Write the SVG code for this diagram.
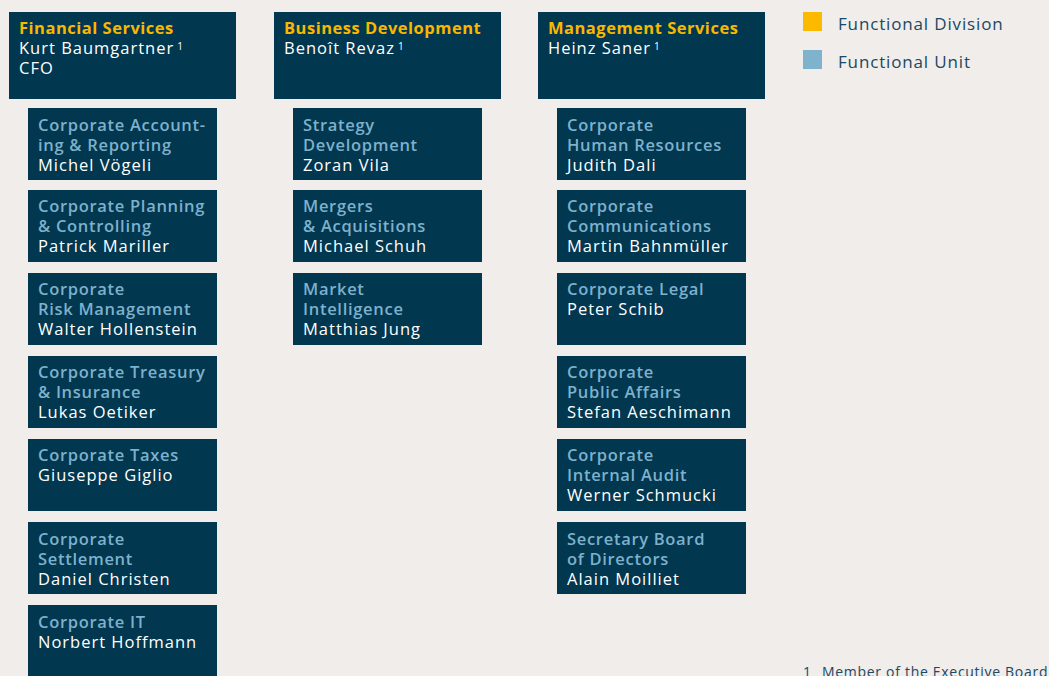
<svg xmlns="http://www.w3.org/2000/svg" width="1049" height="676" viewBox="0 0 1049 676">
<style>
.bg{fill:#f0edea}
.box{fill:#023750}
.t{font-family:"Open Sans","Liberation Sans",sans-serif;font-size:16.5px}
.div{fill:#f8b800;font-weight:700;letter-spacing:0.5px}
.unit{fill:#7db1cc;font-weight:600;letter-spacing:0.7px}
.name{fill:#ffffff;letter-spacing:1px}
.sup{font-size:10px;letter-spacing:0}
.leg{fill:#1b4863;font-family:"Open Sans","Liberation Sans",sans-serif;font-size:17px;letter-spacing:0.85px}
.foot{fill:#1b4863;font-family:"Open Sans","Liberation Sans",sans-serif;font-size:14px;letter-spacing:0.7px}
</style>
<rect class="bg" x="0" y="0" width="1049" height="676"/>
<g id="connectors"/>
<g id="financial-services">
<rect class="box" x="9" y="12" width="227" height="87"/>
<text class="t div" x="19" y="34">Financial Services</text>
<text class="t name" x="19" y="54">Kurt Baumgartner<tspan class="sup" dx="3" dy="-4">1</tspan></text>
<text class="t name" x="19" y="74">CFO</text>
</g>
<g id="business-development">
<rect class="box" x="274" y="12" width="227" height="87"/>
<text class="t div" x="284" y="34">Business Development</text>
<text class="t name" x="284" y="54">Benoît Revaz<tspan class="sup" dx="3" dy="-4">1</tspan></text>
</g>
<g id="management-services">
<rect class="box" x="538" y="12" width="227" height="87"/>
<text class="t div" x="548" y="34">Management Services</text>
<text class="t name" x="548" y="54">Heinz Saner<tspan class="sup" dx="3" dy="-4">1</tspan></text>
</g>
<g id="corp-accounting">
<rect class="box" x="28" y="108" width="189" height="72"/>
<text class="t unit" x="38" y="131">Corporate Account-</text>
<text class="t unit" x="38" y="151">ing &amp; Reporting</text>
<text class="t name" x="38" y="171">Michel Vögeli</text>
</g>
<g id="corp-planning">
<rect class="box" x="28" y="190" width="189" height="72"/>
<text class="t unit" x="38" y="212">Corporate Planning</text>
<text class="t unit" x="38" y="232">&amp; Controlling</text>
<text class="t name" x="38" y="252">Patrick Mariller</text>
</g>
<g id="corp-risk">
<rect class="box" x="28" y="273" width="189" height="72"/>
<text class="t unit" x="38" y="295">Corporate</text>
<text class="t unit" x="38" y="315">Risk Management</text>
<text class="t name" x="38" y="335">Walter Hollenstein</text>
</g>
<g id="corp-treasury">
<rect class="box" x="28" y="356" width="189" height="72"/>
<text class="t unit" x="38" y="378">Corporate Treasury</text>
<text class="t unit" x="38" y="398">&amp; Insurance</text>
<text class="t name" x="38" y="418">Lukas Oetiker</text>
</g>
<g id="corp-taxes">
<rect class="box" x="28" y="439" width="189" height="72"/>
<text class="t unit" x="38" y="461">Corporate Taxes</text>
<text class="t name" x="38" y="481">Giuseppe Giglio</text>
</g>
<g id="corp-settlement">
<rect class="box" x="28" y="522" width="189" height="72"/>
<text class="t unit" x="38" y="545">Corporate</text>
<text class="t unit" x="38" y="565">Settlement</text>
<text class="t name" x="38" y="585">Daniel Christen</text>
</g>
<g id="corp-it">
<rect class="box" x="28" y="605" width="189" height="75"/>
<text class="t unit" x="38" y="628">Corporate IT</text>
<text class="t name" x="38" y="648">Norbert Hoffmann</text>
</g>
<g id="strategy-development">
<rect class="box" x="293" y="108" width="189" height="72"/>
<text class="t unit" x="303" y="131">Strategy</text>
<text class="t unit" x="303" y="151">Development</text>
<text class="t name" x="303" y="171">Zoran Vila</text>
</g>
<g id="mergers-acquisitions">
<rect class="box" x="293" y="190" width="189" height="72"/>
<text class="t unit" x="303" y="212">Mergers</text>
<text class="t unit" x="303" y="232">&amp; Acquisitions</text>
<text class="t name" x="303" y="252">Michael Schuh</text>
</g>
<g id="market-intelligence">
<rect class="box" x="293" y="273" width="189" height="72"/>
<text class="t unit" x="303" y="295">Market</text>
<text class="t unit" x="303" y="315">Intelligence</text>
<text class="t name" x="303" y="335">Matthias Jung</text>
</g>
<g id="corp-hr">
<rect class="box" x="557" y="108" width="189" height="72"/>
<text class="t unit" x="567" y="131">Corporate</text>
<text class="t unit" x="567" y="151">Human Resources</text>
<text class="t name" x="567" y="171">Judith Dali</text>
</g>
<g id="corp-communications">
<rect class="box" x="557" y="190" width="189" height="72"/>
<text class="t unit" x="567" y="212">Corporate</text>
<text class="t unit" x="567" y="232">Communications</text>
<text class="t name" x="567" y="252">Martin Bahnmüller</text>
</g>
<g id="corp-legal">
<rect class="box" x="557" y="273" width="189" height="72"/>
<text class="t unit" x="567" y="295">Corporate Legal</text>
<text class="t name" x="567" y="315">Peter Schib</text>
</g>
<g id="corp-public-affairs">
<rect class="box" x="557" y="356" width="189" height="72"/>
<text class="t unit" x="567" y="378">Corporate</text>
<text class="t unit" x="567" y="398">Public Affairs</text>
<text class="t name" x="567" y="418">Stefan Aeschimann</text>
</g>
<g id="corp-internal-audit">
<rect class="box" x="557" y="439" width="189" height="72"/>
<text class="t unit" x="567" y="461">Corporate</text>
<text class="t unit" x="567" y="481">Internal Audit</text>
<text class="t name" x="567" y="501">Werner Schmucki</text>
</g>
<g id="secretary-board">
<rect class="box" x="557" y="522" width="189" height="72"/>
<text class="t unit" x="567" y="545">Secretary Board</text>
<text class="t unit" x="567" y="565">of Directors</text>
<text class="t name" x="567" y="585">Alain Moilliet</text>
</g>
<g id="legend">
<rect x="803" y="12" width="19" height="19" fill="#fbba00"/>
<text class="leg" x="838" y="30">Functional Division</text>
<rect x="803" y="50" width="19" height="19" fill="#7fb3cd"/>
<text class="leg" x="838" y="68">Functional Unit</text>
</g>
<g id="footnote">
<text class="foot" x="803" y="677">1</text>
<text class="foot" x="822" y="677">Member of the Executive Board</text>
</g>
</svg>
